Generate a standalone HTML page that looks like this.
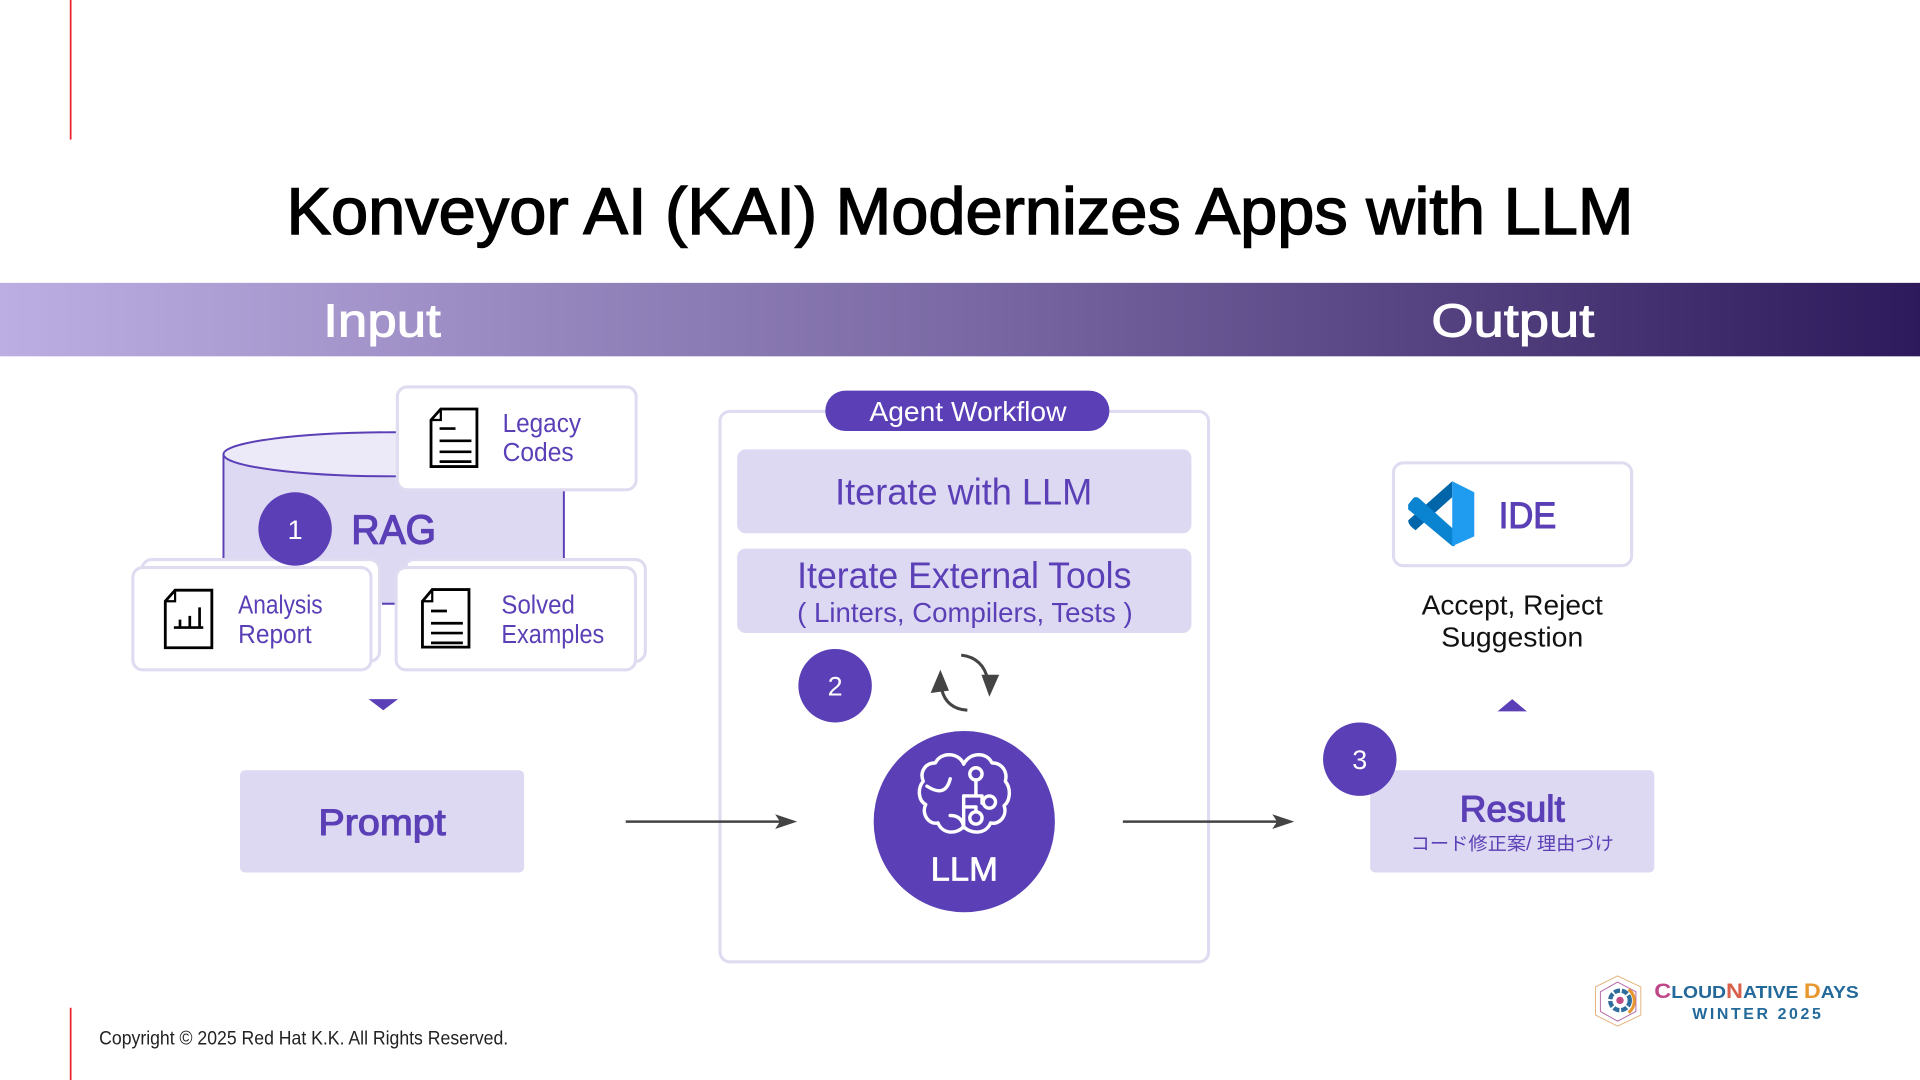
<!DOCTYPE html>
<html lang="en"><head><meta charset="utf-8"><title>Konveyor AI</title>
<style>
html,body{margin:0;padding:0;background:#fff;width:1920px;height:1080px;overflow:hidden}
svg{display:block}
text{font-family:"Liberation Sans","Noto Sans CJK JP",sans-serif}
</style></head><body>
<svg width="1920" height="1080" viewBox="0 0 1568 882" xmlns="http://www.w3.org/2000/svg">
<defs>
<linearGradient id="g" x1="0" x2="1" y1="0" y2="0">
<stop offset="0" stop-color="#bcaee2"/><stop offset=".5" stop-color="#7a69a4"/><stop offset="1" stop-color="#2d1a5c"/>
</linearGradient>
</defs>
<rect width="1568" height="882" fill="#fff"/>
<rect x="57" y="0" width="1.4" height="114" fill="#e8202a"/>
<rect x="57" y="823" width="1.4" height="59" fill="#e8202a"/>

<text x="234" y="191" font-size="54" fill="#000" stroke="#000" stroke-width="1.2" textLength="1100" lengthAdjust="spacingAndGlyphs">Konveyor AI (KAI) Modernizes Apps with LLM</text>

<rect x="0" y="231" width="1568" height="60" fill="url(#g)"/>
<text x="264" y="275" font-size="38" fill="#fff" stroke="#fff" stroke-width=".8" textLength="96" lengthAdjust="spacingAndGlyphs">Input</text>
<text x="1169" y="275" font-size="38" fill="#fff" stroke="#fff" stroke-width=".8" textLength="133" lengthAdjust="spacingAndGlyphs">Output</text>

<!-- cylinder -->
<path d="M182.500 371V475Q182.500 493 321 493Q460.500 493 460.500 475V371Z" fill="#ded9f3"/>
<path d="M182.500 371V475M460.500 371V475M312 493H330" fill="none" stroke="#5a3fb6" stroke-width="1.600"/>
<ellipse cx="321.500" cy="371" rx="139" ry="18" fill="#ece9f8" stroke="#5a3fb6" stroke-width="1.600"/>

<!-- Legacy -->
<rect x="324.500" y="316" width="195" height="84" rx="8" fill="#fff" stroke="#dfdbf1" stroke-width="2.500"/>
<path d="M352 343L360 334H389.500V381H352Z" fill="#fff" stroke="#000" stroke-width="2.300"/>
<path d="M352 343H360V334" fill="none" stroke="#000" stroke-width="1.800"/>
<path d="M359 351H372M359 361H385M359 370H385M359 378H385" stroke="#000" stroke-width="2.200" fill="none" transform="translate(0,-1)"/>
<text x="410.500" y="353" font-size="21" fill="#5a3fb6" textLength="64" lengthAdjust="spacingAndGlyphs">Legacy</text>
<text x="410.500" y="376.500" font-size="21" fill="#5a3fb6" textLength="58" lengthAdjust="spacingAndGlyphs">Codes</text>

<!-- back cards -->
<rect x="116" y="457" width="194" height="83" rx="8" fill="#fff" stroke="#dfdbf1" stroke-width="2.500"/>
<rect x="330" y="457" width="197" height="83" rx="8" fill="#fff" stroke="#dfdbf1" stroke-width="2.500"/>
<rect x="311" y="459" width="22" height="33.500" fill="#ded9f3"/>
<path d="M312 493H323" stroke="#5a3fb6" stroke-width="1.600"/>

<!-- 1 RAG -->
<circle cx="241" cy="432" r="30" fill="#5a3fb6"/>
<text x="241" y="440" font-size="22" fill="#fff" text-anchor="middle">1</text>
<text x="287" y="444" font-size="33" fill="#5a3fb6" stroke="#5a3fb6" stroke-width="1.100" textLength="69" lengthAdjust="spacingAndGlyphs">RAG</text>

<!-- Analysis -->
<rect x="108.500" y="463.500" width="194.500" height="83.500" rx="8" fill="#fff" stroke="#dfdbf1" stroke-width="2.500"/>
<path d="M135 491L143 482H173V529H135Z" fill="#fff" stroke="#000" stroke-width="2.300"/>
<path d="M135 491H143V482" fill="none" stroke="#000" stroke-width="1.800"/>
<path d="M142 512.500H166M147 512.500V506M155 512.500V503M163 512.500V496" stroke="#000" stroke-width="2.200" fill="none"/>
<text x="194.500" y="501" font-size="21" fill="#5a3fb6" textLength="69" lengthAdjust="spacingAndGlyphs">Analysis</text>
<text x="194.500" y="525" font-size="21" fill="#5a3fb6" textLength="60" lengthAdjust="spacingAndGlyphs">Report</text>

<!-- Solved -->
<rect x="323.500" y="463.500" width="195.500" height="83.500" rx="8" fill="#fff" stroke="#dfdbf1" stroke-width="2.500"/>
<path d="M345 491L353 481.500H383V528.500H345Z" fill="#fff" stroke="#000" stroke-width="2.300"/>
<path d="M345 491H353V481.500" fill="none" stroke="#000" stroke-width="1.800"/>
<path d="M352 500H365M352 510H378M352 518H378M352 526H378" stroke="#000" stroke-width="2.200" fill="none" transform="translate(0,-1)"/>
<text x="409.500" y="501" font-size="21" fill="#5a3fb6" textLength="60" lengthAdjust="spacingAndGlyphs">Solved</text>
<text x="409.500" y="525" font-size="21" fill="#5a3fb6" textLength="84" lengthAdjust="spacingAndGlyphs">Examples</text>

<path d="M301 571H325L313 580Z" fill="#5a3fb6"/>

<!-- Prompt -->
<rect x="196" y="629" width="232" height="83.500" rx="4" fill="#ded9f3"/>
<text x="260" y="682" font-size="30" fill="#5a3fb6" stroke="#5a3fb6" stroke-width=".9" textLength="104" lengthAdjust="spacingAndGlyphs">Prompt</text>

<!-- Agent -->
<rect x="588" y="336" width="399" height="449.500" rx="8" fill="#fff" stroke="#dfdbf1" stroke-width="2.500"/>
<rect x="674" y="319" width="232" height="33" rx="16.500" fill="#5a3fb6"/>
<text x="710" y="344" font-size="23" fill="#fff" textLength="161" lengthAdjust="spacingAndGlyphs">Agent Workflow</text>
<rect x="602" y="367" width="371" height="68.500" rx="7" fill="#ded9f3"/>
<text x="682" y="412" font-size="30" fill="#5a3fb6" textLength="210" lengthAdjust="spacingAndGlyphs">Iterate with LLM</text>
<rect x="602" y="448" width="371" height="69" rx="7" fill="#ded9f3"/>
<text x="651" y="480" font-size="30" fill="#5a3fb6" textLength="273" lengthAdjust="spacingAndGlyphs">Iterate External Tools</text>
<text x="651" y="508" font-size="23" fill="#5a3fb6" textLength="274" lengthAdjust="spacingAndGlyphs">( Linters, Compilers, Tests )</text>

<!-- Arrows (above the Agent frame) -->
<g stroke="#444" stroke-width="2" fill="none">
<path d="M511 671H644"/><path d="M917 671H1050"/>
</g>
<path d="M633 665L651 671L633 677L637 671Z" fill="#444"/>
<path d="M1039 665L1057 671L1039 677L1043 671Z" fill="#444"/>

<circle cx="682" cy="560" r="30" fill="#5a3fb6"/>
<text x="682" y="568" font-size="22" fill="#fff" text-anchor="middle">2</text>

<!-- cycle -->
<path d="M785 535Q803 537 807 556" fill="none" stroke="#444" stroke-width="2.500"/>
<path d="M801.500 551H816L808 569Z" fill="#444"/>
<path d="M790 580Q773 579 769 563" fill="none" stroke="#444" stroke-width="2.500"/>
<path d="M760 566L768 547L775 564Z" fill="#444"/>

<!-- LLM -->
<circle cx="787.500" cy="671" r="74" fill="#5a3fb6"/>
<g fill="none" stroke="#fff" stroke-width="2.800" stroke-linecap="round" stroke-linejoin="round">
<path d="M787 624C783 614 768 614 764 623C755 623 751 631 754 638C749 644 750 654 756 657C752 665 759 674 766 672C770 682 782 681 787 675V650"/>
<path d="M787 624C792 614 806 614 810 623C819 623 823 631 821 638C826 644 825 654 820 658C823 666 816 674 809 672C805 682 792 681 787 675"/>
<path d="M757 642Q772 652 776 636"/>
<path d="M776 666Q786 666 787 676"/>
<path d="M787 650H802V656M787 659H797"/>
<circle cx="797" cy="632" r="5"/>
<path d="M797 637V650"/>
<circle cx="808" cy="655" r="5"/>
<circle cx="797" cy="668" r="5"/>
<path d="M797 659V663"/>
</g>
<text x="760" y="719" font-size="27" fill="#fff" stroke="#fff" stroke-width=".6" textLength="55" lengthAdjust="spacingAndGlyphs">LLM</text>

<!-- IDE -->
<rect x="1138" y="378" width="194.500" height="84" rx="8" fill="#fff" stroke="#dfdbf1" stroke-width="2.500"/>
<path d="M1186 393L1150 425Q1150 429 1156 433L1186 406Z" fill="#0065a9"/>
<path d="M1150 412L1154 407Q1156 405 1159 407L1188 433L1188 446L1186 446L1150 416Z" fill="#0a84d0"/>
<path d="M1186 393L1204 402V438L1186 446Z" fill="#1f9cf0"/>
<text x="1224" y="431" font-size="30" fill="#5a3fb6" stroke="#5a3fb6" stroke-width=".9" textLength="47" lengthAdjust="spacingAndGlyphs">IDE</text>

<text x="1161" y="502" font-size="23" fill="#111" textLength="148" lengthAdjust="spacingAndGlyphs">Accept, Reject</text>
<text x="1177" y="528" font-size="23" fill="#111" textLength="116" lengthAdjust="spacingAndGlyphs">Suggestion</text>

<path d="M1223 581H1247L1235 571Z" fill="#5a3fb6"/>

<!-- Result -->
<rect x="1119" y="629" width="232" height="83.500" rx="4" fill="#ded9f3"/>
<text x="1192" y="671" font-size="30" fill="#5a3fb6" stroke="#5a3fb6" stroke-width=".9" textLength="86" lengthAdjust="spacingAndGlyphs">Result</text>
<text x="1152" y="694" font-size="15" fill="#5a3fb6" textLength="166" lengthAdjust="spacingAndGlyphs">コード修正案/ 理由づけ</text>
<circle cx="1110.500" cy="620" r="30" fill="#5a3fb6"/>
<text x="1110.500" y="628" font-size="22" fill="#fff" text-anchor="middle">3</text>

<!-- Copyright -->
<text x="81" y="853" font-size="15.500" fill="#222" textLength="334" lengthAdjust="spacingAndGlyphs">Copyright © 2025 Red Hat K.K. All Rights Reserved.</text>

<!-- Logo -->
<g fill="none">
<path d="M1321 797L1340 806V829L1321 838L1303 829V806Z" stroke="#e3b27e" stroke-width=".8"/>
<path d="M1321 802L1336 810V826L1321 834L1307 826V810Z" stroke="#b569a8" stroke-width=".8"/>
<circle cx="1323" cy="817" r="8" stroke="#2e6e9e" stroke-width="3.500" stroke-dasharray="5 1.500"/>
<path d="M1330 808A12 12 0 0 1 1330 827" stroke="#e8962e" stroke-width="2.500"/>
<circle cx="1323" cy="817" r="3" fill="#c04a86"/>
</g>
<text x="1351" y="815" font-size="17" font-weight="bold" textLength="167" lengthAdjust="spacingAndGlyphs"><tspan fill="#c0468a">C</tspan><tspan fill="#236a9a" font-size="14">LOUD</tspan><tspan fill="#d9604a">N</tspan><tspan fill="#236a9a" font-size="14">ATIVE </tspan><tspan fill="#e8962e">D</tspan><tspan fill="#236a9a" font-size="14">AYS</tspan></text>
<text x="1382" y="832" font-size="13" font-weight="bold" fill="#236a9a" textLength="105" lengthAdjust="spacing">WINTER 2025</text>
</svg>
</body></html>
